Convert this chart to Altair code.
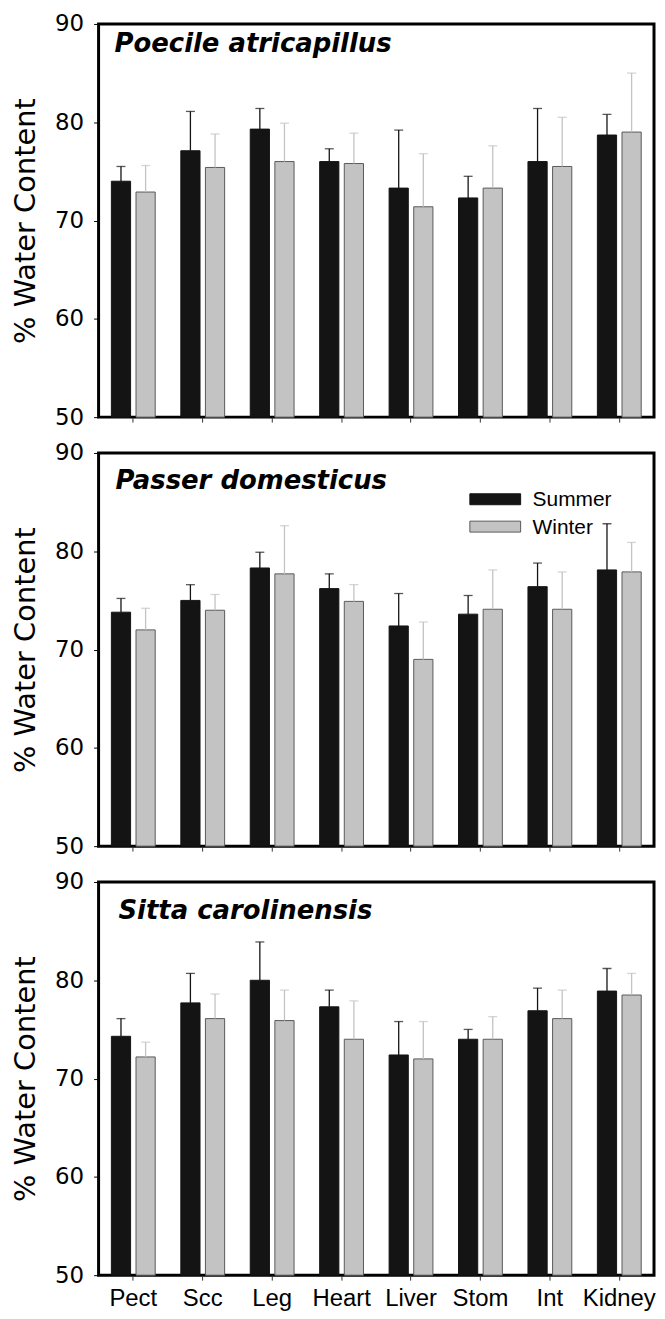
import altair as alt
import pandas as pd

organs = ["Pect", "Scc", "Leg", "Heart", "Liver", "Stom", "Int", "Kidney"]
species = ["Poecile atricapillus", "Passer domesticus", "Sitta carolinensis"]
seasons = ["Summer", "Winter"]

# means and upper end of the error bar
poecile_summer = [74.0, 77.1, 79.3, 76.0, 73.3, 72.3, 76.0, 78.7]
poecile_summer_top = [75.5, 81.1, 81.4, 77.3, 79.2, 74.5, 81.4, 80.8]
poecile_winter = [72.9, 75.4, 76.0, 75.8, 71.4, 73.3, 75.5, 79.0]
poecile_winter_top = [75.6, 78.8, 79.9, 78.9, 76.8, 77.6, 80.5, 85.0]

passer_summer = [73.8, 75.0, 78.3, 76.2, 72.4, 73.6, 76.4, 78.1]
passer_summer_top = [75.2, 76.6, 79.9, 77.7, 75.7, 75.5, 78.8, 82.8]
passer_winter = [72.0, 74.0, 77.7, 74.9, 69.0, 74.1, 74.1, 77.9]
passer_winter_top = [74.2, 75.6, 82.6, 76.6, 72.8, 78.1, 77.9, 80.9]

sitta_summer = [74.3, 77.7, 80.0, 77.3, 72.4, 74.0, 76.9, 78.9]
sitta_summer_top = [76.1, 80.7, 83.9, 79.0, 75.8, 75.0, 79.2, 81.2]
sitta_winter = [72.2, 76.1, 75.9, 74.0, 72.0, 74.0, 76.1, 78.5]
sitta_winter_top = [73.7, 78.6, 79.0, 77.9, 75.8, 76.3, 79.0, 80.7]

table = {
    "Poecile atricapillus": (poecile_summer, poecile_summer_top, poecile_winter, poecile_winter_top),
    "Passer domesticus": (passer_summer, passer_summer_top, passer_winter, passer_winter_top),
    "Sitta carolinensis": (sitta_summer, sitta_summer_top, sitta_winter, sitta_winter_top),
}

rows = []
for sp in species:
    s, st, w, wt = table[sp]
    for i, o in enumerate(organs):
        rows.append({"species": sp, "organ": o, "season": "Summer", "mean": s[i], "top": st[i]})
        rows.append({"species": sp, "organ": o, "season": "Winter", "mean": w[i], "top": wt[i]})
df = pd.DataFrame(rows)

SANS = "Liberation Sans"
WIDE = "DejaVu Sans"
W, H = 558, 395
SUMMER_FILL, WINTER_FILL = "#141414", "#c3c3c3"
SUMMER_EDGE, WINTER_EDGE = "#141414", "#5a5a5a"

color_scale = alt.Scale(domain=seasons, range=[SUMMER_FILL, WINTER_FILL])
stroke_scale = alt.Scale(domain=seasons, range=[SUMMER_EDGE, WINTER_EDGE])
err_scale = alt.Scale(domain=seasons, range=["#202020", "#5c5c5c"])
xoff_scale = alt.Scale(domain=seasons, paddingInner=0.22, paddingOuter=0.52)

title_pos = {
    "Poecile atricapillus": (16, 28),
    "Passer domesticus": (17, 36),
    "Sitta carolinensis": (20, 37),
}


def panel(sp, show_labels, show_legend):
    d = df[df["species"] == sp]
    base = alt.Chart(d)
    x = alt.X(
        "organ:N",
        sort=organs,
        scale=alt.Scale(paddingInner=0, paddingOuter=0),
        axis=alt.Axis(
            title=None,
            labels=show_labels,
            labelFontSize=24,
            labelFont=SANS,
            labelColor="black",
            labelAngle=0,
            labelPadding=6,
            ticks=True,
            tickSize=5,
            tickColor="#333333",
            domain=False,
        ),
    )
    y = alt.Y(
        "mean:Q",
        scale=alt.Scale(domain=[50, 90], zero=False, nice=False),
        axis=alt.Axis(
            title="% Water Content",
            titleFont=WIDE,
            titleFontSize=29,
            titleFontWeight="normal",
            titleColor="black",
            titlePadding=14,
            values=[50, 60, 70, 80, 90],
            labelFontSize=23,
            labelFont=WIDE,
            labelColor="black",
            labelPadding=10,
            tickSize=5,
            tickColor="black",
            grid=False,
            domain=False,
        ),
    )

    bars = base.mark_bar(strokeWidth=1).encode(
        x=x,
        xOffset=alt.XOffset("season:N", scale=xoff_scale, sort=seasons),
        y=y,
        y2=alt.datum(50),
        color=alt.Color("season:N", scale=color_scale, legend=None),
        stroke=alt.Stroke("season:N", scale=stroke_scale, legend=None),
    )
    rules = base.mark_rule(strokeWidth=1.3).encode(
        x=alt.X("organ:N", sort=organs),
        xOffset=alt.XOffset("season:N", scale=xoff_scale, sort=seasons),
        y="mean:Q",
        y2="top:Q",
        color=alt.Color("season:N", scale=err_scale, legend=None),
    )
    caps = base.mark_tick(size=9, thickness=1.3, orient="horizontal").encode(
        x=alt.X("organ:N", sort=organs),
        xOffset=alt.XOffset("season:N", scale=xoff_scale, sort=seasons),
        y="top:Q",
        color=alt.Color("season:N", scale=err_scale, legend=None),
    )
    tx, ty = title_pos[sp]
    title = alt.Chart(pd.DataFrame({"t": [sp]})).mark_text(
        align="left",
        baseline="alphabetic",
        font=WIDE,
        fontSize=26,
        fontStyle="italic",
        fontWeight="bold",
        color="black",
    ).encode(text="t:N", x=alt.value(tx), y=alt.value(ty))

    layers = [bars, rules, caps, title]

    if show_legend:
        lx = 373
        sw, sh = 51, 11
        for k, (name, fill, edge) in enumerate(
            [("Summer", SUMMER_FILL, SUMMER_EDGE), ("Winter", WINTER_FILL, WINTER_EDGE)]
        ):
            ly = 41 + 27.5 * k
            leg = alt.Chart(pd.DataFrame({"season": [name]}))
            layers.append(
                leg.mark_rect(fill=fill, stroke=edge, strokeWidth=1).encode(
                    x=alt.value(lx), x2=alt.value(lx + sw),
                    y=alt.value(ly), y2=alt.value(ly + sh),
                )
            )
            layers.append(
                leg.mark_text(
                    align="left", baseline="middle", font=SANS, fontSize=21, color="black"
                ).encode(text="season:N", x=alt.value(lx + sw + 12), y=alt.value(ly + sh / 2 + 1))
            )

    return alt.layer(*layers).properties(width=W, height=H)


chart = (
    alt.vconcat(
        panel(species[0], False, False),
        panel(species[1], False, True),
        panel(species[2], True, False),
        spacing=9,
    )
    .properties(padding={"left": 2, "top": 0, "right": 0, "bottom": 0})
    .configure(background="white")
    .configure_view(stroke="black", strokeWidth=3)
)

chart.save("out.html", embed_options={"renderer": "svg", "actions": False})
